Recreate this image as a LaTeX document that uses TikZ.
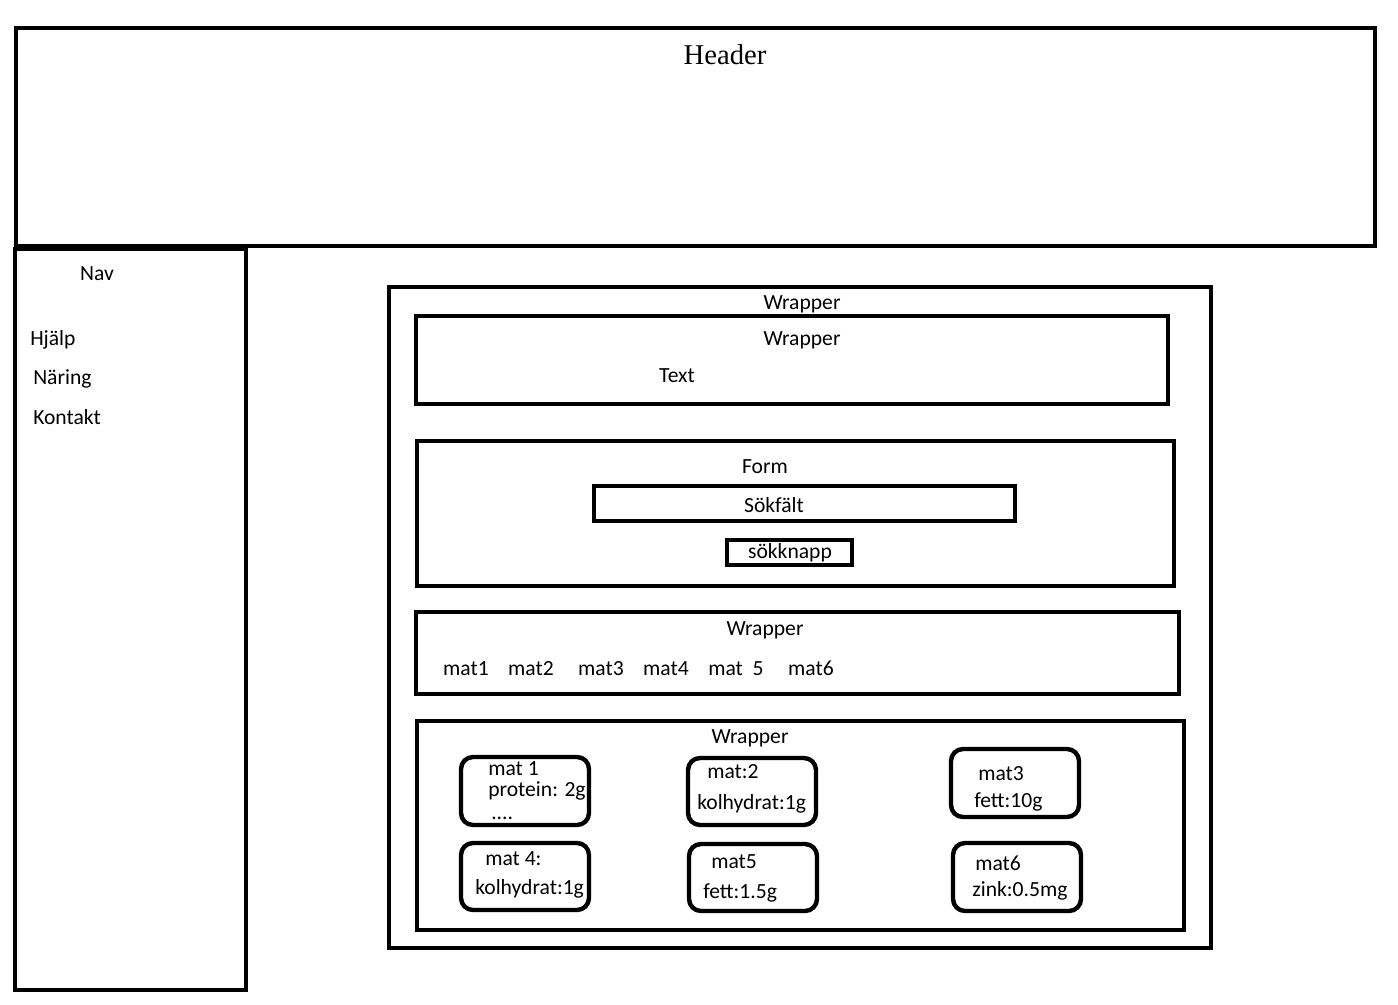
\documentclass[tikz,border=0pt]{standalone}
\usepackage{fontspec}
\setmainfont{Carlito}
\newfontfamily\headfont{Liberation Serif}
\begin{document}
\begin{tikzpicture}[x=0.75pt,y=-0.75pt,
  box/.style={draw=black,line width=3.3pt},
  card/.style={draw=black,line width=3.3pt,rounded corners=9pt},
  lbl/.style={inner sep=0pt,font=\fontsize{16.2}{19}\selectfont},
  lblw/.style={lbl,anchor=west},
  lblb/.style={lbl,anchor=base}]
% canvas
\fill[white] (0,0) rectangle (1398,1005);
\useasboundingbox (0,0) rectangle (1398,1005);

% page frame: header and navigation column
\draw[box] (16,28) rectangle (1375,246);
\draw[box] (15,249) rectangle (246,990);
\node[inner sep=0pt,font=\headfont\fontsize{21.5}{24}\selectfont] (header) at (725,55) {Header};
\node[lbl] (nav) at (97,274) {Nav};
\node[lblw] (hjalp) at (30,340) {Hjälp};
\node[lblw] (naring) at (33,379) {Näring};
\node[lblw] (kontakt) at (33,417) {Kontakt};

% main wrapper
\draw[box] (389,287) rectangle (1211,948);
\node[lbl] (wrapmain) at (802,304) {Wrapper};

% intro wrapper
\draw[box] (416,316) rectangle (1168,404);
\node[lbl] (wrapintro) at (802,340) {Wrapper};
\node[lbl] (introtext) at (677,376) {Text};

% search form
\draw[box] (417,441) rectangle (1174,586);
\node[lbl] (form) at (765,467) {Form};
\draw[box] (594,486) rectangle (1015,521);
\node[lbl] (sokfalt) at (774,505) {Sökfält};
\draw[box] (727,540) rectangle (852,565);
\node[lbl] (sokknapp) at (790,553) {sökknapp};

% food list
\draw[box] (416,612) rectangle (1179,694);
\node[lbl] (wraplist) at (765,630) {Wrapper};
\node[lblb] (l1) at (466,675) {mat1};
\node[lblb] (l2) at (531,675) {mat2};
\node[lblb] (l3) at (601,675) {mat3};
\node[lblb] (l4) at (666,675) {mat4};
\node[lblb] (l5) at (736,675) {mat\ \ 5};
\node[lblb] (l6) at (811,675) {mat6};

% food cards
\draw[box] (417,721) rectangle (1184,930);
\node[lbl] (wrapcards) at (750,738) {Wrapper};

\draw[card] (461,757) rectangle (589,825);
\node[lblw] (c1a) at (488,769) {mat 1};
\node[lblw] (c1b) at (488,791) {protein: 2g};
\node[lblw,text depth=0pt] (c1c) at (491,818) {....};

\draw[card] (688,758) rectangle (816,825);
\node[lblw] (c2a) at (707,772) {mat:2};
\node[lblw] (c2b) at (697,804) {kolhydrat:1g};

\draw[card] (951,749) rectangle (1079,817);
\node[lblw] (c3a) at (978,774) {mat3};
\node[lblw] (c3b) at (974,802) {fett:10g};

\draw[card] (461,843) rectangle (589,910);
\node[lblw] (c4a) at (485,859) {mat 4:};
\node[lblw] (c4b) at (475,889) {kolhydrat:1g};

\draw[card] (689,844) rectangle (817,911);
\node[lblw] (c5a) at (711,862) {mat5};
\node[lblw] (c5b) at (703,893) {fett:1.5g};

\draw[card] (953,843) rectangle (1081,911);
\node[lblw] (c6a) at (975,863) {mat6};
\node[lblw] (c6b) at (972,891) {zink:0.5mg};
\end{tikzpicture}
\end{document}
